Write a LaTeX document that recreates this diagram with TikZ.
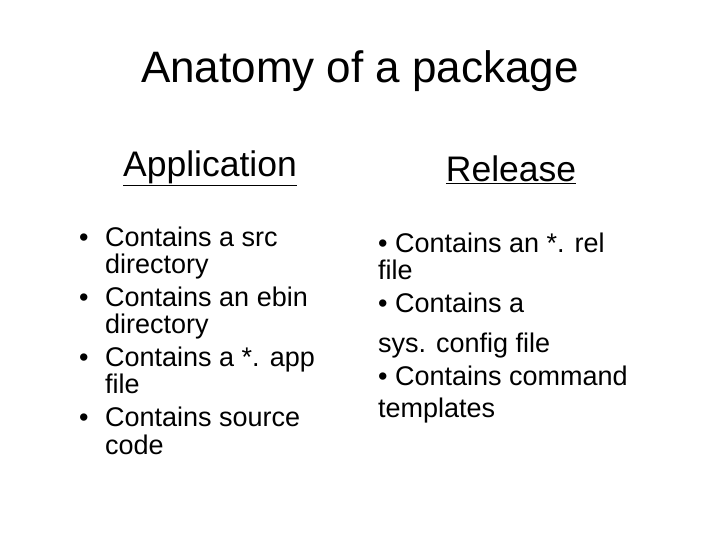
\documentclass[tikz,border=0pt]{standalone}
\usepackage{fontspec}
\setmainfont{Liberation Sans}
\begin{document}
\begin{tikzpicture}[x=1pt,y=-1pt,
  lt/.style={anchor=mid west,inner sep=0pt,font=\fontsize{27}{30}\selectfont},
  rt/.style={anchor=mid west,inner sep=0pt,font=\fontsize{27}{30}\selectfont},
  hd/.style={inner sep=0pt,font=\fontsize{35.5}{40}\selectfont}]
\useasboundingbox[fill=white] (0,0) rectangle (720,540);
\node[inner sep=0pt,font=\fontsize{44}{50}\selectfont] (title) at (360,71) {Anatomy of a package};
\node[hd,anchor=mid] (app) at (210,174) {\underline{Application}};
\node[hd,anchor=mid] (rel) at (511,179) {\underline{Release}};
\node[lt] (l1) at (79,244) {•};
\node[lt] (l1a) at (105,244) {Contains a src};
\node[lt] (l1b) at (105,271) {directory};
\node[lt] (l2) at (79,304) {•};
\node[lt] (l2a) at (105,304) {Contains an ebin};
\node[lt] (l2b) at (105,331) {directory};
\node[lt] (l3) at (79,364) {•};
\node[lt] (l3a) at (105,364) {Contains a *. app};
\node[lt] (l3b) at (105,391) {file};
\node[lt] (l4) at (79,424) {•};
\node[lt] (l4a) at (105,424) {Contains source};
\node[lt] (l4b) at (105,452) {code};
\node[rt] (r1) at (378,250) {• Contains an *. rel};
\node[rt] (r2) at (378,277) {file};
\node[rt] (r3) at (378,310) {• Contains a};
\node[rt] (r4) at (378,350) {sys. config file};
\node[rt] (r5) at (378,383) {• Contains command};
\node[rt] (r6) at (378,415) {templates};
\end{tikzpicture}
\end{document}
